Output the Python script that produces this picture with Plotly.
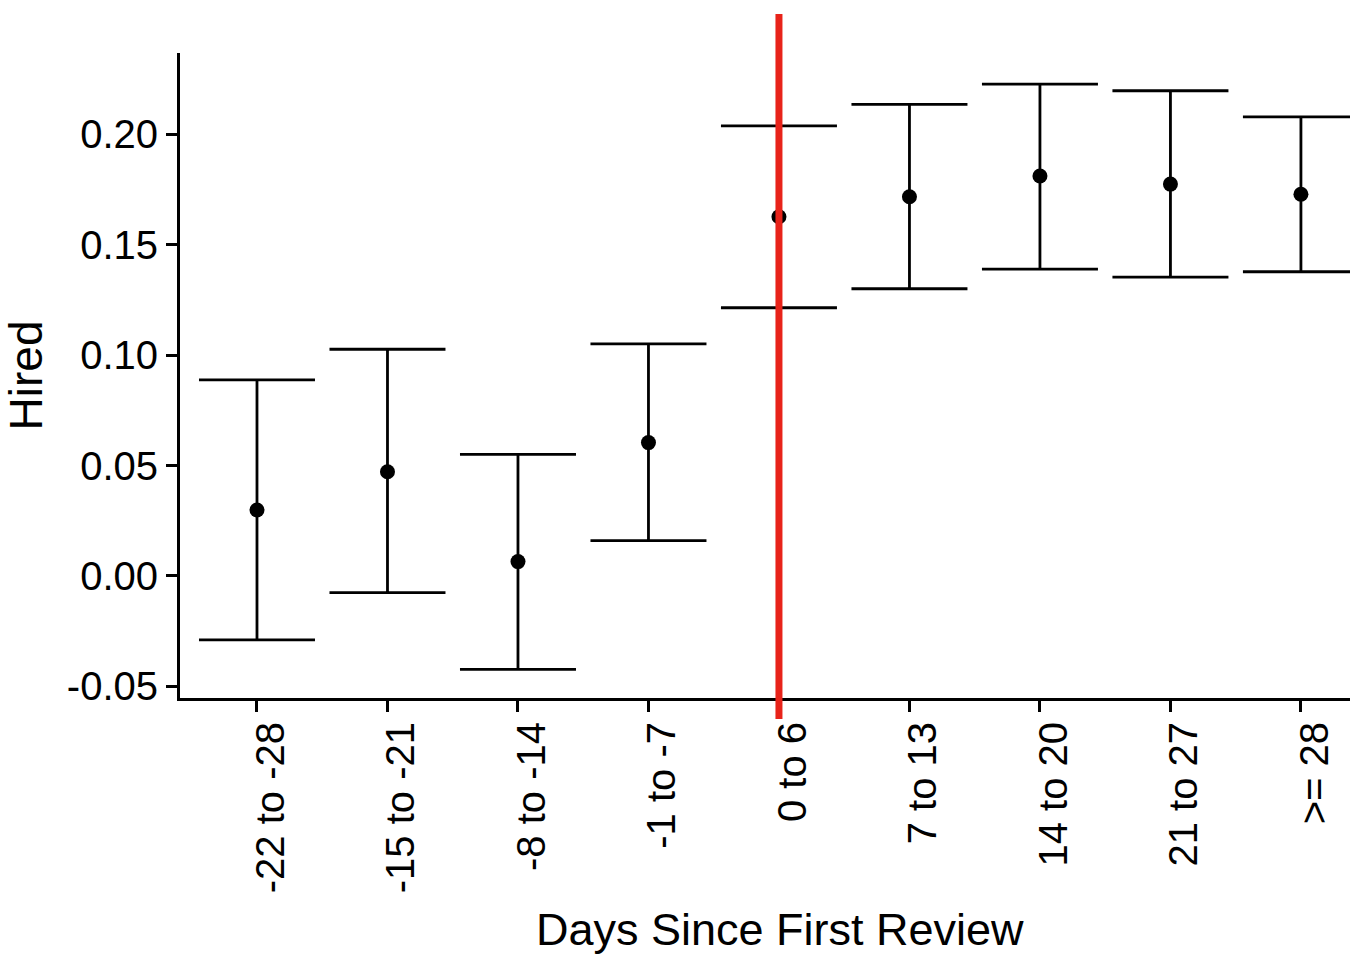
import plotly.graph_objects as go

# Day-window bins relative to first review
categories = ["-22 to -28", "-15 to -21", "-8 to -14", "-1 to -7", "0 to 6",
              "7 to 13", "14 to 20", "21 to 27", ">= 28"]

# Point estimates and confidence bounds for the hiring probability
estimate = [0.0299, 0.0472, 0.0065, 0.0604, 0.1627, 0.1718, 0.1812, 0.1775, 0.1729]
lower = [-0.0290, -0.0076, -0.0423, 0.0160, 0.1215, 0.1301, 0.1390, 0.1354, 0.1378]
upper = [0.0888, 0.1027, 0.0551, 0.1051, 0.2039, 0.2136, 0.2228, 0.2198, 0.2080]

y_ticks = [-0.05, 0.00, 0.05, 0.10, 0.15, 0.20]
y_tick_text = ["-0.05", "0.00", "0.05", "0.10", "0.15", "0.20"]

# Bin where the first review happens
event_bin = "0 to 6"

err_plus = [u - m for u, m in zip(upper, estimate)]
err_minus = [m - l for m, l in zip(estimate, lower)]

FONT = "Liberation Sans, Arial, Helvetica, sans-serif"

fig = go.Figure()
fig.add_trace(go.Scatter(
    x=categories,
    y=estimate,
    mode="markers",
    marker=dict(color="black", size=15),
    error_y=dict(type="data", symmetric=False, array=err_plus, arrayminus=err_minus,
                 color="black", thickness=2.8, width=58),
    showlegend=False,
))

# Vertical marker at the first-review bin
fig.add_shape(type="line", xref="x", yref="paper",
              x0=event_bin, x1=event_bin, y0=-0.0326, y1=1.0605,
              line=dict(color="#e8231a", width=7), layer="above")

# x-axis title, centred on the full panel width
fig.add_annotation(text="Days Since First Review", xref="paper", yref="paper",
                   x=0.5128, y=-0.359, xanchor="center", yanchor="middle",
                   showarrow=False, font=dict(family=FONT, size=45, color="black"))

fig.update_layout(
    width=1350, height=957,
    margin=dict(l=180, r=0, t=53, b=259),
    paper_bgcolor="white", plot_bgcolor="white",
    font=dict(family=FONT, color="black", size=40),
)
fig.update_xaxes(
    type="category", categoryorder="array", categoryarray=categories,
    range=[-0.59, 8.376],
    showline=True, linecolor="black", linewidth=3,
    ticks="outside", ticklen=11, tickwidth=2.8, tickcolor="black",
    tickangle=-90, tickfont=dict(family=FONT, size=40, color="black"),
    ticklabelshift=14, ticklabelstandoff=-6,
    showgrid=False, zeroline=False,
)
fig.update_yaxes(
    range=[-0.0553, 0.2369],
    tickvals=y_ticks, ticktext=y_tick_text,
    showline=True, linecolor="black", linewidth=3,
    ticks="outside", ticklen=11, tickwidth=2.8, tickcolor="black",
    tickfont=dict(family=FONT, size=40, color="black"),
    showgrid=False, zeroline=False,
    title=dict(text="Hired", font=dict(family=FONT, size=46), standoff=20),
)

fig.write_html("out.html")
